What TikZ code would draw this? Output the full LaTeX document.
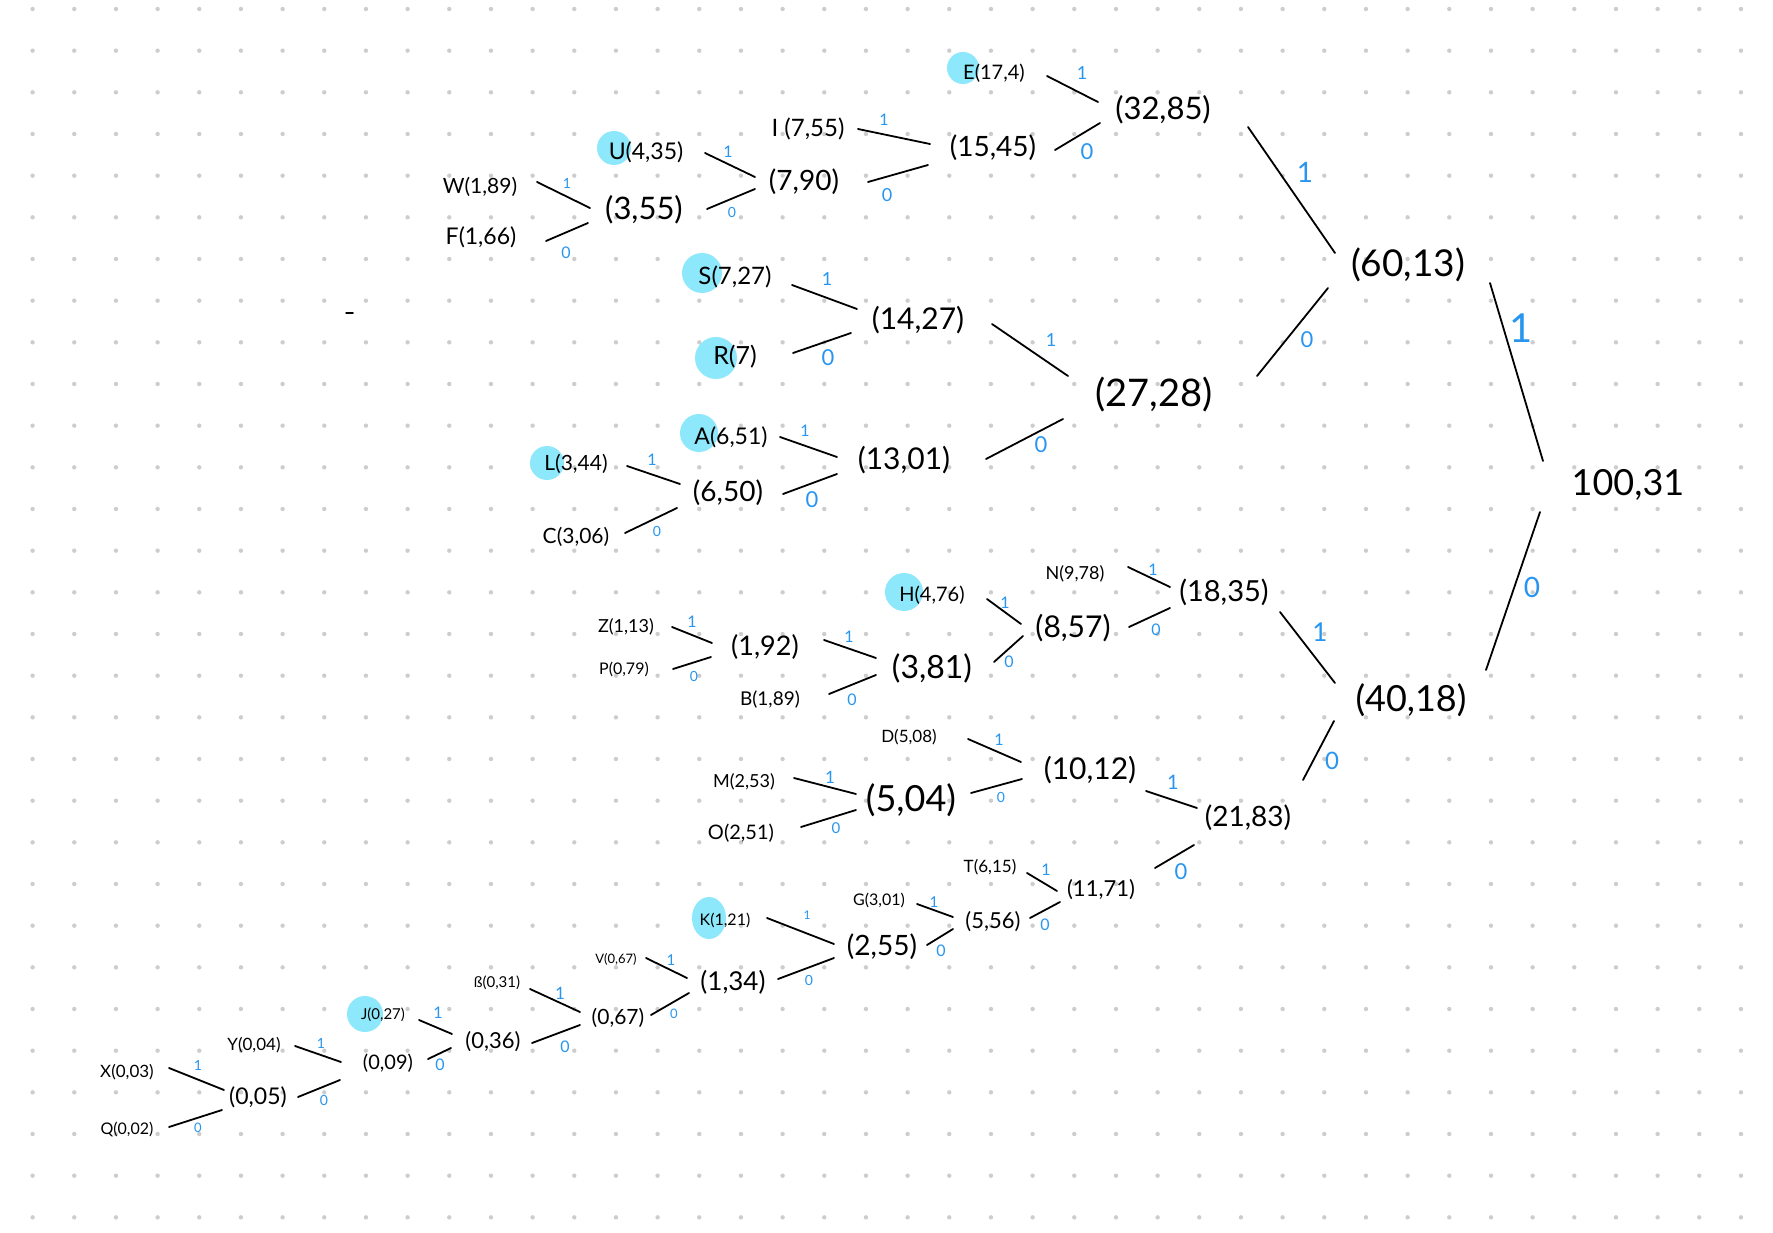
\documentclass[tikz,border=0pt]{standalone}
\usepackage{fontspec}
\setmainfont{Lato}
\usetikzlibrary{calc}
\pgfdeclarelayer{paper}
\pgfdeclarelayer{background}
\pgfsetlayers{paper,background,main}
\definecolor{bitblue}{RGB}{40,150,240}
\definecolor{marker}{RGB}{140,232,250}
\definecolor{griddot}{RGB}{205,205,205}
\newcommand\hsz[1]{\fontsize{#1}{#1}\selectfont}
% connector: child node, offset, parent node, offset
\newcommand\link[4]{\draw[edge] ($(#1)+(#2)$) -- ($(#3)+(#4)$);}
\begin{document}
\begin{tikzpicture}[x=1pt,y=-1pt,
  lbl/.style={inner sep=0pt,anchor=center,text=black},
  bit/.style={inner sep=0pt,anchor=center,text=bitblue},
  edge/.style={draw=black,line width=1.8pt,line cap=round},
  hl/.style={fill=marker}]
\useasboundingbox (0,0) rectangle (1773,1233);
% dotted paper
\begin{pgfonlayer}{paper}
\fill[white] (0,0) rectangle (1773,1233);
\foreach \i in {0,...,41}
  \foreach \j in {0,...,29}
    \fill[griddot] ({32.6+41.667*\i},{9+41.667*\j}) circle (2.2);
\end{pgfonlayer}

% ---------- upper subtree (60,13)
\node[lbl,font=\hsz{21}] (nW) at (480,187) {W(1,89)};
\node[lbl,font=\hsz{23}] (nF) at (481,237) {F(1,66)};
\node[lbl,font=\hsz{31}] (n355) at (644,210) {(3,55)};
\node[lbl,font=\hsz{23}] (nU) at (646,152) {U(4,35)};
\node[lbl,font=\hsz{28}] (n790) at (804,182) {(7,90)};
\node[lbl,font=\hsz{24}] (nI) at (808,129) {I (7,55)};
\node[lbl,font=\hsz{28}] (n1545) at (993,148) {(15,45)};
\node[lbl,font=\hsz{20}] (nE) at (994,73) {E(17,4)};
\node[lbl,font=\hsz{31}] (n3285) at (1163,110) {(32,85)};
\node[lbl,font=\hsz{24}] (nS) at (735,277) {S(7,27)};
\node[lbl,font=\hsz{25}] (nR) at (735,357) {R(7)};
\node[lbl,font=\hsz{30}] (n1427) at (918,320) {(14,27)};
\node[lbl,font=\hsz{23}] (nA) at (731,437) {A(6,51)};
\node[lbl,font=\hsz{21}] (nL) at (576,464) {L(3,44)};
\node[lbl,font=\hsz{21}] (nC) at (576,537) {C(3,06)};
\node[lbl,font=\hsz{28}] (n650) at (728,493) {(6,50)};
\node[lbl,font=\hsz{30}] (n1301) at (904,460) {(13,01)};
\node[lbl,font=\hsz{38}] (n2728) at (1154,395) {(27,28)};
\node[lbl,font=\hsz{37}] (n6013) at (1408,265) {(60,13)};
\node[lbl,font=\hsz{36}] (root) at (1628,485) {100,31};

% ---------- lower subtree (40,18)
\node[lbl,font=\hsz{18}] (nN) at (1075,574) {N(9,78)};
\node[lbl,font=\hsz{29}] (n1835) at (1224,592) {(18,35)};
\node[lbl,font=\hsz{20}] (nH) at (932,595) {H(4,76)};
\node[lbl,font=\hsz{30}] (n857) at (1073,628) {(8,57)};
\node[lbl,font=\hsz{18}] (nZ) at (626,627) {Z(1,13)};
\node[lbl,font=\hsz{16}] (nP) at (624,669) {P(0,79)};
\node[lbl,font=\hsz{27}] (n192) at (765,647) {(1,92)};
\node[lbl,font=\hsz{19}] (nB) at (770,700) {B(1,89)};
\node[lbl,font=\hsz{32}] (n381) at (932,668) {(3,81)};
\node[lbl,font=\hsz{36}] (n4018) at (1411,700) {(40,18)};
\node[lbl,font=\hsz{17}] (nD) at (909,737) {D(5,08)};
\node[lbl,font=\hsz{30}] (n1012) at (1090,770) {(10,12)};
\node[lbl,font=\hsz{18}] (nM) at (744,782) {M(2,53)};
\node[lbl,font=\hsz{20}] (nO) at (741,833) {O(2,51)};
\node[lbl,font=\hsz{36}] (n504) at (911,800) {(5,04)};
\node[lbl,font=\hsz{28}] (n2183) at (1248,818) {(21,83)};
\node[lbl,font=\hsz{17}] (nT) at (990,867) {T(6,15)};
\node[lbl,font=\hsz{22}] (n1171) at (1101,890) {(11,71)};
\node[lbl,font=\hsz{16}] (nG) at (879,900) {G(3,01)};
\node[lbl,font=\hsz{22}] (n556) at (993,922) {(5,56)};
\node[lbl,font=\hsz{16}] (nK) at (725,920) {K(1,21)};
\node[lbl,font=\hsz{28}] (n255) at (882,947) {(2,55)};
\node[lbl,font=\hsz{13}] (nV) at (616,959) {V(0,67)};
\node[lbl,font=\hsz{26}] (n134) at (733,982) {(1,34)};
\node[lbl,font=\hsz{21}] (n067) at (618,1018) {(0,67)};
\node[lbl,font=\hsz{15}] (nSz) at (497,983) {ß(0,31)};
\node[lbl,font=\hsz{22}] (n036) at (493,1042) {(0,36)};
\node[lbl,font=\hsz{15}] (nJ) at (383,1015) {J(0,27)};
\node[lbl,font=\hsz{20}] (n009) at (388,1063) {(0,09)};
\node[lbl,font=\hsz{17}] (nY) at (254,1045) {Y(0,04)};
\node[lbl,font=\hsz{23}] (n005) at (258,1097) {(0,05)};
\node[lbl,font=\hsz{17}] (nX) at (127,1072) {X(0,03)};
\node[lbl,font=\hsz{16}] (nQ) at (127,1129) {Q(0,02)};

% highlighter marks behind some letters
\begin{pgfonlayer}{background}
  \fill[hl] ($(nU)+(-32,-4)$) circle (17);
  \fill[hl] ($(nE)+(-31,-5)$) circle (16);
  \fill[hl] ($(nS)+(-33,-4)$) circle (20);
  \fill[hl] ($(nR)+(-19,1)$) circle (21);
  \fill[hl] ($(nA)+(-32,-4)$) circle (19);
  \fill[hl] ($(nL)+(-29,-1)$) circle (17);
  \fill[hl] ($(nH)+(-28,-3)$) circle (19);
  \fill[hl] ($(nK)+(-16,-2)$) ellipse (17 and 21);
  \fill[hl] ($(nJ)+(-18,-1)$) circle (18);
\end{pgfonlayer}

% ---------- branches
\link{nW}{57,-5}{n355}{-54,-2}
\link{nF}{65,4}{n355}{-56,13}
\link{nU}{59,1}{n790}{-49,-5}
\link{n355}{63,-1}{n790}{-49,7}
\link{nI}{50,0}{n1545}{-63,-4}
\link{n790}{64,0}{n1545}{-65,17}
\link{nE}{53,3}{n3285}{-65,-8}
\link{n1545}{62,2}{n3285}{-63,13}
\link{n3285}{85,17}{n6013}{-73,-12}
\link{nS}{57,8}{n1427}{-61,-11}
\link{nR}{58,-4}{n1427}{-67,13}
\link{nA}{49,0}{n1301}{-67,-3}
\link{nL}{51,2}{n650}{-48,-9}
\link{nC}{49,-4}{n650}{-51,15}
\link{n650}{55,1}{n1301}{-67,14}
\link{n1427}{74,4}{n2728}{-86,-19}
\link{n1301}{82,-1}{n2728}{-91,24}
\link{n2728}{103,-19}{n6013}{-80,23}
\link{n6013}{82,18}{root}{-85,-24}
\link{n4018}{75,-30}{root}{-88,27}
\link{nN}{53,-7}{n1835}{-54,-5}
\link{n857}{56,-1}{n1835}{-54,16}
\link{nH}{55,4}{n857}{-52,-4}
\link{n381}{62,-6}{n857}{-50,8}
\link{nZ}{46,0}{n192}{-53,-4}
\link{nP}{49,0}{n192}{-54,10}
\link{n192}{59,-7}{n381}{-56,-10}
\link{nB}{59,-6}{n381}{-56,7}
\link{n1835}{56,20}{n4018}{-76,-17}
\link{n2183}{55,-38}{n4018}{-77,21}
\link{nD}{59,2}{n1012}{-69,-8}
\link{n504}{60,-7}{n1012}{-68,9}
\link{nM}{50,-4}{n504}{-55,-6}
\link{nO}{60,-6}{n504}{-55,10}
\link{n1012}{56,21}{n2183}{-51,-10}
\link{n1171}{54,-22}{n2183}{-54,27}
\link{nT}{37,6}{n1171}{-44,1}
\link{n556}{37,-4}{n1171}{-41,12}
\link{nG}{38,4}{n556}{-40,-5}
\link{n255}{45,-2}{n556}{-40,7}
\link{nK}{42,-2}{n255}{-48,-3}
\link{n134}{45,-3}{n255}{-48,11}
\link{nV}{30,-1}{n134}{-46,-4}
\link{n067}{33,-3}{n134}{-44,11}
\link{nSz}{33,6}{n067}{-38,-6}
\link{n036}{39,1}{n067}{-38,7}
\link{nJ}{36,5}{n036}{-41,-8}
\link{n009}{40,-4}{n036}{-42,6}
\link{nY}{41,1}{n009}{-47,-1}
\link{n005}{40,0}{n009}{-48,17}
\link{nX}{42,-4}{n005}{-34,-7}
\link{nQ}{42,-2}{n005}{-36,13}

% ---------- bit labels
\node[bit,font=\hsz{14}] (b01) at (567,183) {1};
\node[bit,font=\hsz{16}] (b02) at (566,253) {0};
\node[bit,font=\hsz{16}] (b03) at (728,152) {1};
\node[bit,font=\hsz{14}] (b04) at (732,212) {0};
\node[bit,font=\hsz{16}] (b05) at (884,120) {1};
\node[bit,font=\hsz{18}] (b06) at (887,195) {0};
\node[bit,font=\hsz{18}] (b07) at (1082,73) {1};
\node[bit,font=\hsz{22}] (b08) at (1087,152) {0};
\node[bit,font=\hsz{28}] (b09) at (1305,172) {1};
\node[bit,font=\hsz{18}] (b10) at (827,279) {1};
\node[bit,font=\hsz{22}] (b11) at (828,358) {0};
\node[bit,font=\hsz{16}] (b12) at (805,431) {1};
\node[bit,font=\hsz{16}] (b13) at (652,460) {1};
\node[bit,font=\hsz{14}] (b14) at (657,531) {0};
\node[bit,font=\hsz{22}] (b15) at (812,500) {0};
\node[bit,font=\hsz{18}] (b16) at (1051,340) {1};
\node[bit,font=\hsz{22}] (b17) at (1041,445) {0};
\node[bit,font=\hsz{22}] (b18) at (1307,340) {0};
\node[bit,font=\hsz{40}] (b19) at (1521,328) {1};
\node[bit,font=\hsz{28}] (b20) at (1532,587) {0};
\node[bit,font=\hsz{16}] (b21) at (1153,570) {1};
\node[bit,font=\hsz{16}] (b22) at (1156,630) {0};
\node[bit,font=\hsz{16}] (b23) at (1005,603) {1};
\node[bit,font=\hsz{16}] (b24) at (1009,662) {0};
\node[bit,font=\hsz{16}] (b25) at (692,622) {1};
\node[bit,font=\hsz{14}] (b26) at (694,676) {0};
\node[bit,font=\hsz{16}] (b27) at (849,637) {1};
\node[bit,font=\hsz{16}] (b28) at (852,700) {0};
\node[bit,font=\hsz{26}] (b29) at (1320,632) {1};
\node[bit,font=\hsz{24}] (b30) at (1332,761) {0};
\node[bit,font=\hsz{16}] (b31) at (999,740) {1};
\node[bit,font=\hsz{14}] (b32) at (1001,797) {0};
\node[bit,font=\hsz{17}] (b33) at (830,777) {1};
\node[bit,font=\hsz{15}] (b34) at (836,828) {0};
\node[bit,font=\hsz{20}] (b35) at (1173,782) {1};
\node[bit,font=\hsz{22}] (b36) at (1181,872) {0};
\node[bit,font=\hsz{16}] (b37) at (1046,870) {1};
\node[bit,font=\hsz{16}] (b38) at (1045,925) {0};
\node[bit,font=\hsz{15}] (b39) at (934,902) {1};
\node[bit,font=\hsz{16}] (b40) at (941,951) {0};
\node[bit,font=\hsz{12}] (b41) at (807,915) {1};
\node[bit,font=\hsz{14}] (b42) at (809,980) {0};
\node[bit,font=\hsz{15}] (b43) at (671,960) {1};
\node[bit,font=\hsz{13}] (b44) at (674,1014) {0};
\node[bit,font=\hsz{17}] (b45) at (560,993) {1};
\node[bit,font=\hsz{16}] (b46) at (565,1047) {0};
\node[bit,font=\hsz{16}] (b47) at (438,1013) {1};
\node[bit,font=\hsz{16}] (b48) at (440,1065) {0};
\node[bit,font=\hsz{14}] (b49) at (321,1043) {1};
\node[bit,font=\hsz{14}] (b50) at (324,1100) {0};
\node[bit,font=\hsz{14}] (b51) at (198,1065) {1};
\node[bit,font=\hsz{13}] (b52) at (198,1128) {0};

% stray pen mark
\draw[line width=1.5pt,line cap=round] (346,313) -- (353,313);
\end{tikzpicture}
\end{document}
